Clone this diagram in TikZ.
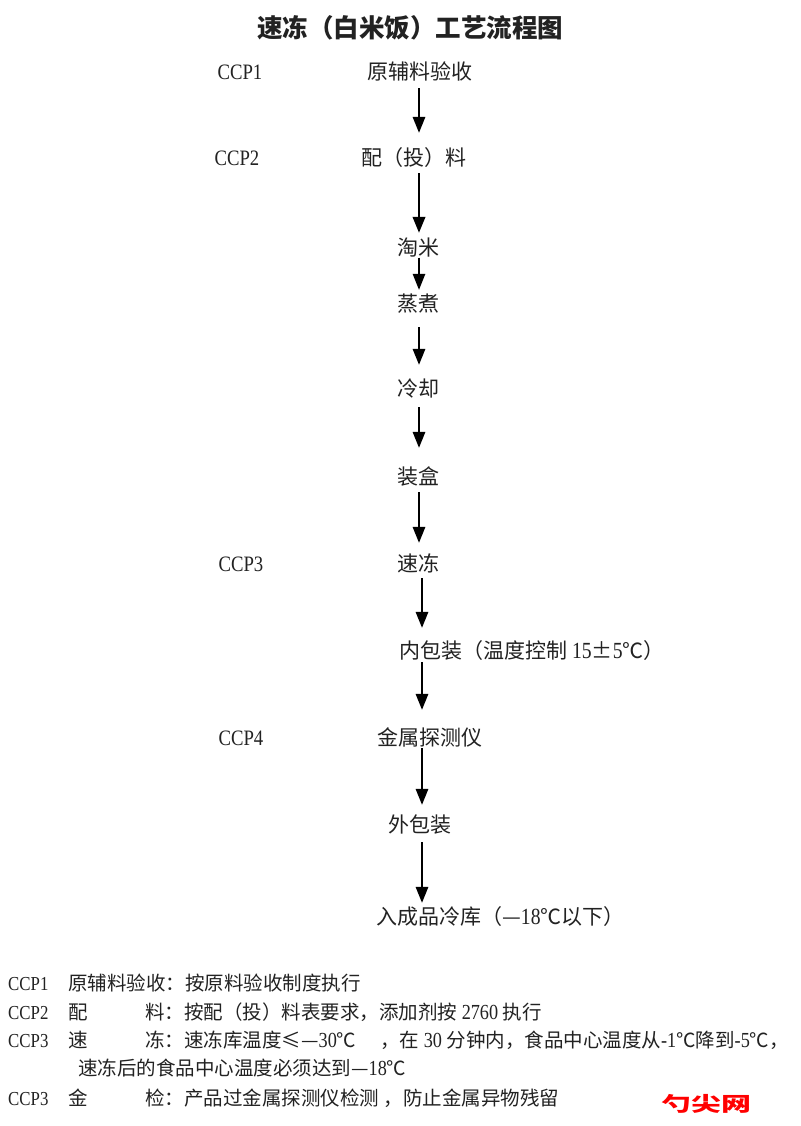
\documentclass[tikz,border=0pt]{standalone}
\usepackage{fontspec}
\setmainfont{Liberation Serif}[FakeStretch=0.85,Scale=1.1]
\newfontfamily\zhfont{Noto Sans CJK SC}
\newcommand\lt[1]{{\rmfamily #1}}
\usetikzlibrary{arrows.meta}
\definecolor{ink}{HTML}{222222}
\begin{document}
\begin{tikzpicture}[x=1pt,y=-1pt,
  title/.style={font=\zhfont\bfseries\fontsize{25.5}{25.5}\selectfont, inner sep=0pt, text height=22.4pt, text depth=3.1pt, text=ink},
  proc/.style={font=\zhfont\fontsize{21}{21}\selectfont, inner sep=0pt, text height=18.5pt, text depth=2.5pt, text=ink},
  ccp/.style={font=\rmfamily\fontsize{20}{20}\selectfont, inner sep=0pt, text height=18.5pt, text depth=2.5pt, text=ink},
  bt/.style={font=\zhfont\fontsize{19.5}{19.5}\selectfont, inner sep=0pt, anchor=west, text height=17.2pt, text depth=2.3pt, text=ink},
  btl/.style={font=\rmfamily\fontsize{18}{18}\selectfont, inner sep=0pt, anchor=west, text height=17.2pt, text depth=2.3pt, text=ink},
  arr/.style={line width=1.7pt, draw=black, -{Triangle[width=12.5pt,length=16pt]}},
  wm/.style={font=\zhfont\bfseries\fontsize{20}{20}\selectfont, inner sep=0pt, xscale=1.5, transform shape}
]
\useasboundingbox (0,0) rectangle (800,1126);
\fill[white] (0,0) rectangle (800,1126);

% title
\node[title] (t) at (410,28) {速冻（白米饭）工艺流程图};

% column coordinates for arrows
\coordinate (colA) at (419,0);
\coordinate (colB) at (422,0);

% process steps
\node[proc] (n1) at (420,72) {原辅料验收};
\node[proc] (n2) at (414,158) {配（投）料};
\node[proc] (n3) at (418,247) {淘米};
\node[proc] (n4) at (418,303) {蒸煮};
\node[proc] (n5) at (418,388) {冷却};
\node[proc] (n6) at (418,476) {装盒};
\node[proc] (n7) at (418,563) {速冻};
\node[proc, anchor=west] (n8) at (399,650) {内包装（温度控制\lt{ 15}±\lt{5}℃）};
\node[proc] (n9) at (430,737) {金属探测仪};
\node[proc] (n10) at (420,824) {外包装};
\node[proc, anchor=west] (n11) at (376,916) {入成品冷库（—\lt{18}℃以下）};

% CCP labels
\node[ccp] (c1) at (240,72) {CCP1};
\node[ccp] (c2) at (237,158) {CCP2};
\node[ccp] (c3) at (241,563) {CCP3};
\node[ccp] (c4) at (241,737) {CCP4};

% arrows
\draw[arr, shorten <=5.5pt, shorten >=14.5pt] (n1.south -| colA) -- (n2.north -| colA);
\draw[arr, line width=2.3pt, shorten <=4.5pt, shorten >=3.5pt] (n2.south -| colA) -- (n3.north -| colA);
\draw[arr, line width=1.3pt, shorten <=0pt, shorten >=2.5pt] (n3.south -| colA) -- (n4.north -| colA);
\draw[arr, shorten <=13.5pt, shorten >=12.5pt] (n4.south -| colA) -- (n5.north -| colA);
\draw[arr, shorten <=8.5pt, shorten >=17.5pt] (n5.south -| colA) -- (n6.north -| colA);
\draw[arr, shorten <=5.5pt, shorten >=9.5pt] (n6.south -| colA) -- (n7.north -| colA);
\draw[arr, shorten <=4.5pt, shorten >=11.5pt] (n7.south -| colB) -- (n8.north -| colB);
\draw[arr, shorten <=1.5pt, shorten >=16.5pt] (n8.south -| colB) -- (n9.north -| colB);
\draw[arr, shorten <=0.5pt, shorten >=8.5pt] (n9.south -| colB) -- (n10.north -| colB);
\draw[arr, shorten <=7.5pt, shorten >=2.5pt] (n10.south -| colB) -- (n11.north -| colB);

% notes
\node[btl] (l1a) at (8,983) {CCP1};
\node[bt] (l1b) at (68,983) {原辅料验收：按原料验收制度执行};

\node[btl] (l2a) at (8,1012) {CCP2};
\node[bt] (l2b) at (68,1012) {配};
\node[bt] (l2c) at (145,1012) {料：按配（投）料表要求，添加剂按\lt{ 2760 }执行};

\node[btl] (l3a) at (8,1040) {CCP3};
\node[bt] (l3b) at (68,1040) {速};
\node[bt] (l3c) at (145,1040) {冻：速冻库温度≤—\lt{30}℃};
\node[bt] (l3d) at (380,1040) {，在\lt{ 30 }分钟内，食品中心温度从\lt{-1}℃降到\lt{-5}℃，};
\node[bt] (l4) at (78,1068) {速冻后的食品中心温度必须达到—\lt{18}℃};

\node[btl] (l5a) at (8,1098) {CCP3};
\node[bt] (l5b) at (68,1098) {金};
\node[bt] (l5c) at (145,1098) {检：产品过金属探测仪检测\lt{ }，防止金属异物残留};

% watermark
\node[wm, text=red] (wmt) at (706,1104) {勺尖网};
\end{tikzpicture}
\end{document}
